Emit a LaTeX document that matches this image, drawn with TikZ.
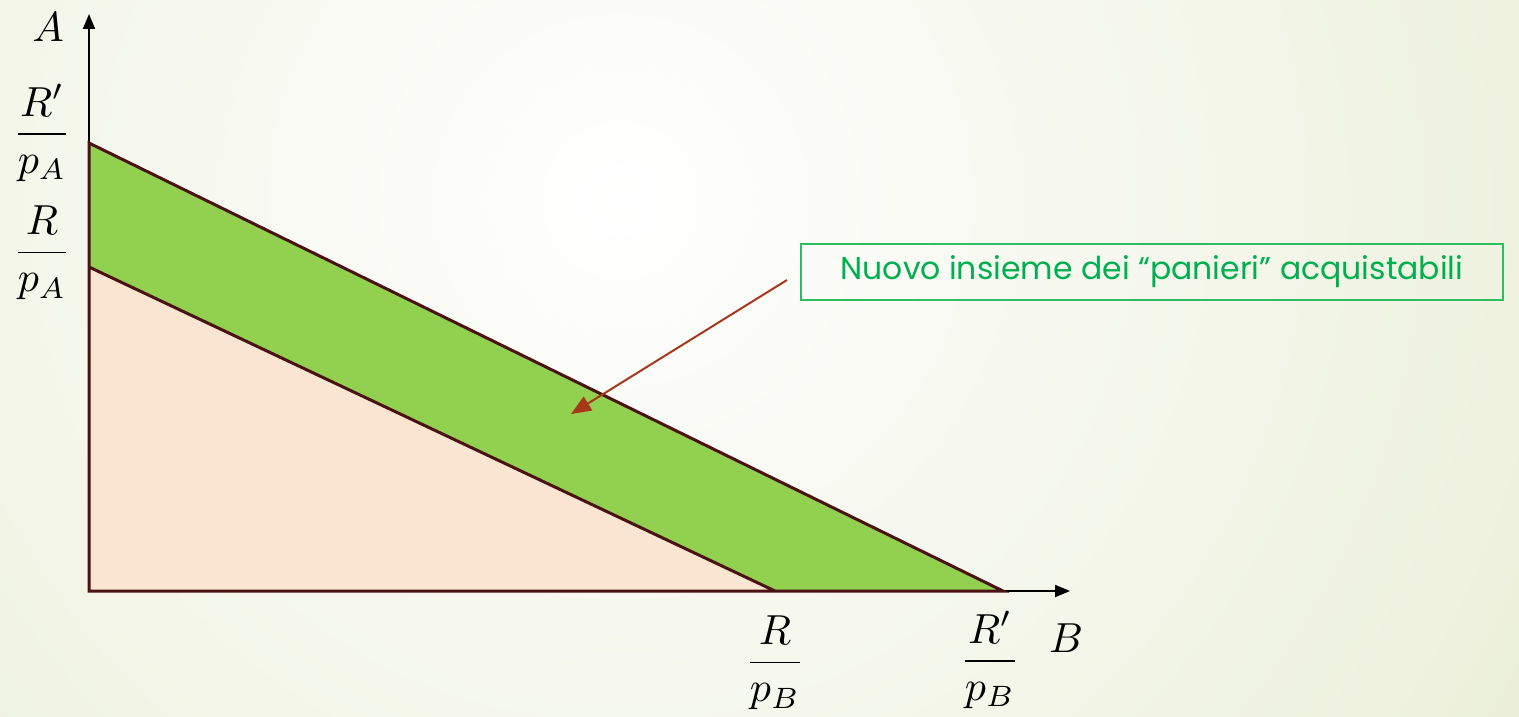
\documentclass[tikz,border=0pt]{standalone}
\usepackage{amsmath}
\usepackage{fontspec}
\newfontfamily\boxfont{Poppins}
\usetikzlibrary{arrows.meta}
\definecolor{bgout}{HTML}{E1E8C6}
\definecolor{edge}{HTML}{4A1212}
\definecolor{pink}{HTML}{FAE5D3}
\definecolor{lgreen}{HTML}{92D050}
\definecolor{boxline}{HTML}{2DBE63}
\definecolor{boxtext}{HTML}{00B050}
\definecolor{arr}{HTML}{A8381C}
\tikzset{
  lab/.style={scale=4.2, inner sep=0pt},
  axis/.style={line width=2pt, -{Triangle[length=15pt,width=12pt]}},
  region/.style={draw=edge, line width=3pt, line join=miter},
  callout/.style={draw=boxline, line width=2pt, text=boxtext, minimum width=702pt, minimum height=56pt, inner sep=0pt,
     font=\boxfont\fontsize{31.5}{36}\selectfont},
}
\begin{document}
\begin{tikzpicture}[x=1pt,y=-1pt]
\useasboundingbox (0,0) rectangle (1519,717);
\begin{scope}
\clip (0,0) rectangle (1519,717);
\shade[inner color=white, outer color=bgout] (620,200) circle (1600);
\end{scope}
% corners
\coordinate (O) at (89,591);
\coordinate (RA) at (89,267);
\coordinate (RpA) at (89,143);
\coordinate (RB) at (775,591);
\coordinate (RpB) at (1003,591);
\coordinate (Atop) at (89,14);
\coordinate (Bend) at (1070,591);
% regions
\fill[pink] (O) -- (RA) -- (RB) -- cycle;
\fill[lgreen] (RA) -- (RpA) -- (RpB) -- (RB) -- cycle;
% axes
\draw[axis] (O) -- (Atop);
\draw[axis] (O) -- (Bend);
% outlines
\draw[region] (RB) -- (O) -- (RpA) -- (RpB) -- (RB) -- (RA);
% labels
\node[lab] (lA) at (48,27) {$A$};
\node[lab] (lB) at (1066,638) {$B$};
\node[lab] (lRpA) at (42,133) {$\dfrac{R'}{p_A}$};
\node[lab] (lRA) at (42,253) {$\dfrac{R}{p_A}$};
\node[lab] (lRB) at (775,663) {$\dfrac{R}{p_B}$};
\node[lab] (lRpB) at (990,660) {$\dfrac{R'}{p_B}$};
% callout
\node[callout] (box) at (1152,272) {Nuovo insieme dei “panieri” acquistabili};
\coordinate (arrS) at (787,280);
\coordinate (arrE) at (571,414);
\draw[arr, line width=2pt, -{Triangle[length=20pt,width=16pt]}] (arrS) -- (arrE);
\end{tikzpicture}
\end{document}
